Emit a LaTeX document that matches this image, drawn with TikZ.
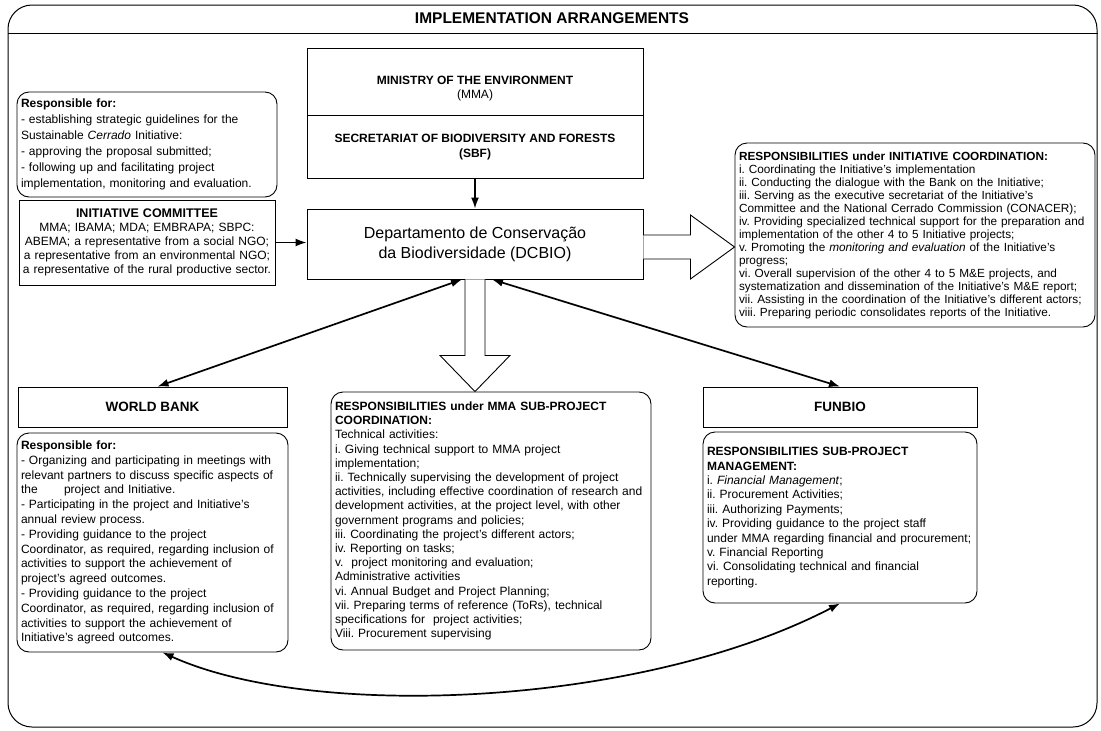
\documentclass[tikz,border=0pt]{standalone}
\usepackage{fontspec}
\setmainfont{Liberation Sans}
\usetikzlibrary{arrows.meta,positioning,calc}

\newcommand{\bodyfont}[1]{\fontsize{12}{#1}\selectfont}
\tikzset{
    % box styles
    titlebox/.style={rectangle,draw,line width=0.9pt,align=center,inner sep=2pt},
    respbox/.style={rectangle,draw,rounded corners=12pt,line width=0.9pt,align=left,inner xsep=4pt,inner ysep=3pt},
    % connector styles
    link/.style={{Latex[length=11pt,width=8pt]}-{Latex[length=11pt,width=8pt]},line width=1.7pt},
    feed/.style={-{Latex[length=11pt,width=8pt]},line width=1.7pt},
    hollowline/.style={draw,line width=0.9pt,fill=white,line join=miter}
}

\begin{document}
\frenchspacing
\begin{tikzpicture}[x=1pt,y=-1pt]
    \useasboundingbox (0,0) rectangle (1101,731);

    % Outer frame and heading
    \node[draw,rounded corners=24pt,line width=1pt,minimum width=1089pt,minimum height=722pt] (frame) at (552.5,366) {};
    \node[font=\bfseries\fontsize{15.5}{18}\selectfont] (heading) at (552,18) {IMPLEMENTATION ARRANGEMENTS};
    \draw[line width=1pt] (frame.west |- 0,33) -- (frame.east |- 0,33);

    % Ministry, secretariat and department
    \node[titlebox,minimum width=336pt,minimum height=67pt] (mma) at (475,81.5) {};
    \node[align=center,font=\bodyfont{14}] (mmatext) at (475,89) {\textbf{MINISTRY OF THE ENVIRONMENT}\\(MMA)};
    \node[titlebox,minimum width=336pt,minimum height=63pt,anchor=north,font=\bodyfont{15}] (sbf) at (mma.south)
        {\textbf{SECRETARIAT OF BIODIVERSITY AND FORESTS}\\\textbf{(SBF)}};
    \node[titlebox,minimum width=336pt,minimum height=70pt,font=\fontsize{16}{20}\selectfont] (dcbio) at (475,244)
        {Departamento de Conservação\\da Biodiversidade (DCBIO)};
    \draw[feed] (sbf) -- (dcbio);

    % Initiative committee
    \node[respbox,text width=252pt,minimum height=105pt,font=\bodyfont{16}] (guide) at (147,144.5)
        {\textbf{Responsible for:}\\
         - establishing strategic guidelines for the\\
         Sustainable \textit{Cerrado} Initiative:\\
         - approving the proposal submitted;\\
         - following up and facilitating project\\
         implementation, monitoring and evaluation.};
    \node[titlebox,text width=252pt,minimum height=85pt,font=\bodyfont{14}] (committee) at (147,242.5)
        {{\fontsize{12.5}{14}\selectfont\bfseries INITIATIVE COMMITTEE}\\
         MMA; IBAMA; MDA; EMBRAPA; SBPC:\\
         ABEMA; a representative from a social NGO;\\
         a representative from an environmental NGO;\\
         a representative of the rural productive sector.};
    \draw[feed] (committee.east) -- (committee.east -| dcbio.west);

    % Initiative coordination
    \node[respbox,text width=352pt,minimum height=184pt,font=\fontsize{11.8}{13}\selectfont] (coord) at (915,235)
        {\textbf{RESPONSIBILITIES under INITIATIVE COORDINATION:}\\
         i. Coordinating the Initiative's implementation\\
         ii. Conducting the dialogue with the Bank on the Initiative;\\
         iii. Serving as the executive secretariat of the Initiative's\\
         Committee and the National Cerrado Commission (CONACER);\\
         iv. Providing specialized technical support for the preparation and\\
         implementation of the other 4 to 5 Initiative projects;\\
         v. Promoting the \textit{monitoring and evaluation} of the Initiative's\\
         progress;\\
         vi. Overall supervision of the other 4 to 5 M\&E projects, and\\
         systematization and dissemination of the Initiative's M\&E report;\\
         vii. Assisting in the coordination of the Initiative's different actors;\\
         viii. Preparing periodic consolidates reports of the Initiative.};

    % MMA sub-project coordination
    \node[respbox,text width=312pt,minimum height=258pt,font=\bodyfont{14.2}] (submma) at (491,521)
        {\textbf{RESPONSIBILITIES under MMA SUB-PROJECT}\\
         \textbf{COORDINATION:}\\
         Technical activities:\\
         i. Giving technical support to MMA project\\
         implementation;\\
         ii. Technically supervising the development of project\\
         activities, including effective coordination of research and\\
         development activities, at the project level, with other\\
         government programs and policies;\\
         iii. Coordinating the project's different actors;\\
         iv. Reporting on tasks;\\
         v.\ \ project monitoring and evaluation;\\
         Administrative activities\\
         vi. Annual Budget and Project Planning;\\
         vii. Preparing terms of reference (ToRs), technical\\
         specifications for\ \ project activities;\\
         Viii. Procurement supervising};

    % World Bank
    \node[titlebox,minimum width=269pt,minimum height=40pt,font=\bfseries\fontsize{13.5}{16}\selectfont] (wb) at (152.5,407) {WORLD BANK};
    \node[respbox,text width=263pt,minimum height=219pt,font=\bodyfont{14.8}] (wbduty) at (152.5,542.5)
        {\textbf{Responsible for:}\\
         - Organizing and participating in meetings with\\
         relevant partners to discuss specific aspects of\\
         the\hspace{2.2em}project and Initiative.\\
         - Participating in the project and Initiative's\\
         annual review process.\\
         - Providing guidance to the project\\
         Coordinator, as required, regarding inclusion of\\
         activities to support the achievement of\\
         project's agreed outcomes.\\
         - Providing guidance to the project\\
         Coordinator, as required, regarding inclusion of\\
         activities to support the achievement of\\
         Initiative's agreed outcomes.};

    % FUNBIO
    \node[titlebox,minimum width=274pt,minimum height=40pt,font=\bfseries\fontsize{13.5}{16}\selectfont] (funbio) at (840,407) {FUNBIO};
    \node[respbox,text width=266pt,minimum height=171pt,font=\bodyfont{14.4}] (funduty) at (840,517.5)
        {\textbf{RESPONSIBILITIES SUB-PROJECT}\\
         \textbf{MANAGEMENT:}\\
         i. \textit{Financial Management};\\
         ii. Procurement Activities;\\
         iii. Authorizing Payments;\\
         iv. Providing guidance to the project staff\\
         under MMA regarding financial and procurement;\\
         v. Financial Reporting\\
         vi. Consolidating technical and financial\\
         reporting.};

    % Hollow arrows out of the department
    \coordinate (ra) at ([yshift=-3pt]dcbio.east);
    \coordinate (rb) at (ra -| coord.west);
    \draw[hollowline] ($(ra)+(0,-12)$) -- ++(47,0) -- ++(0,-20) -- (rb) -- ($(ra)+(47,32)$) -- ++(0,-20) -- ($(ra)+(0,12)$);
    \coordinate (da) at (dcbio.south);
    \coordinate (db) at (da |- submma.north);
    \draw[hollowline] ($(da)+(-10,0)$) -- ++(0,76) -- ++(-25,0) -- (db) -- ($(da)+(35,76)$) -- ++(-25,0) -- ($(da)+(10,0)$);

    % Links between department, bank and FUNBIO
    \draw[link] ([xshift=-13pt]dcbio.south) -- ([xshift=5pt]wb.north);
    \draw[link] ([xshift=17pt]dcbio.south) -- (funbio.north);
    \draw[link] ([xshift=10pt]wbduty.south) .. controls +(150,68) and +(-200,104) .. (funduty.south);
\end{tikzpicture}
\end{document}
